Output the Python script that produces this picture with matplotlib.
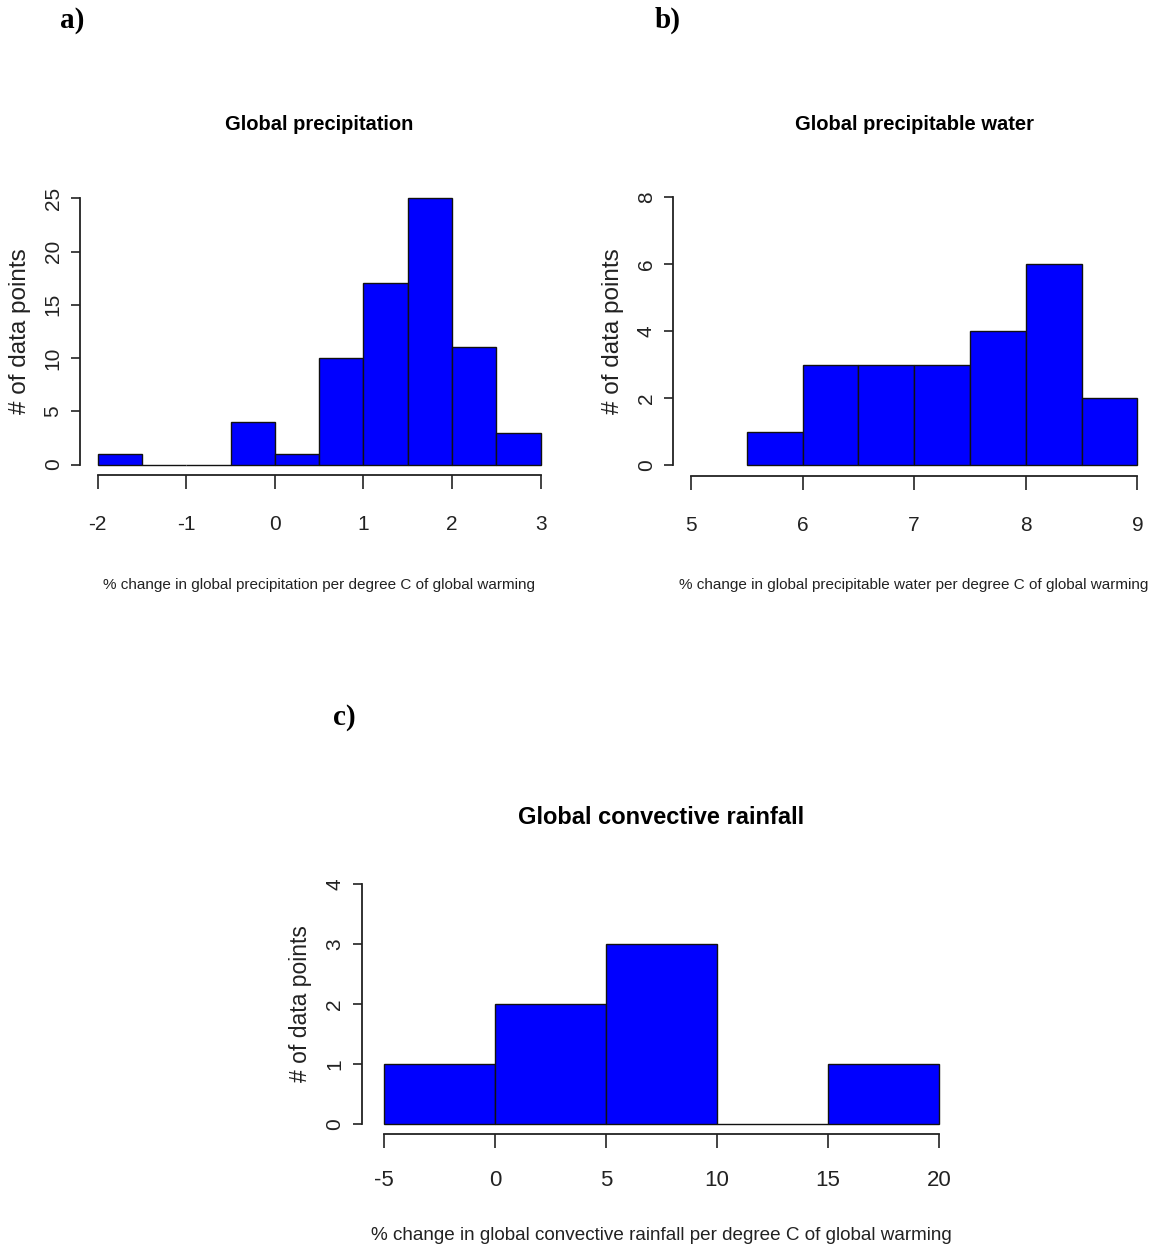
import numpy as np
import matplotlib
matplotlib.use("Agg")
import matplotlib.pyplot as plt

# histogram bins and counts for each panel
precip_edges = np.arange(-2.0, 3.01, 0.5)
precip_counts = [1, 0, 0, 4, 1, 10, 17, 25, 11, 3]
precip_xticks = [-2, -1, 0, 1, 2, 3]
precip_yticks = [0, 5, 10, 15, 20, 25]

water_edges = np.arange(5.5, 9.01, 0.5)
water_counts = [1, 3, 3, 3, 4, 6, 2]
water_xticks = [5, 6, 7, 8, 9]
water_yticks = [0, 2, 4, 6, 8]

conv_edges = np.arange(-5, 20.1, 5)
conv_counts = [1, 2, 3, 0, 1]
conv_xticks = [-5, 0, 5, 10, 15, 20]
conv_yticks = [0, 1, 2, 3, 4]

W, H = 1159, 1251
SANS = ["Liberation Sans", "DejaVu Sans"]
SERIF = ["Liberation Serif", "DejaVu Serif"]
INK = "#222222"

fig = plt.figure(figsize=(W / 100, H / 100), dpi=100)


def px(x, y):
    return x / W, 1 - y / H


def hist_panel(box, edges, counts, xticks, yticks, title, xlabel, fs):
    left, top, right, bottom = box
    ax = fig.add_axes([left / W, 1 - bottom / H, (right - left) / W, (bottom - top) / H])
    ax.bar(edges[:-1], counts, width=np.diff(edges), align="edge",
           color="#0000ff", edgecolor="#111111", linewidth=1.0)
    # R style axis ranges: 4% padding on each side
    x0, x1 = xticks[0], xticks[-1]
    y0, y1 = yticks[0], yticks[-1]
    ax.set_xlim(x0 - 0.04 * (x1 - x0), x1 + 0.04 * (x1 - x0))
    ax.set_ylim(y0 - 0.04 * (y1 - y0), y1 + 0.04 * (y1 - y0))
    for s in ["top", "right"]:
        ax.spines[s].set_visible(False)
    ax.spines["left"].set_bounds(y0, y1)
    ax.spines["bottom"].set_bounds(x0, x1)
    for s in ["left", "bottom"]:
        ax.spines[s].set_linewidth(1.3)
        ax.spines[s].set_color(INK)
    ax.set_xticks(xticks)
    ax.set_yticks(yticks)
    ax.tick_params(axis="x", length=10, width=1.2, color=INK, pad=fs["xtpad"])
    ax.tick_params(axis="y", length=6.5, width=1.2, color=INK, pad=6)
    ax.set_xticklabels([str(t) for t in xticks], fontsize=fs["xt"], family=SANS, color=INK)
    ax.set_yticklabels([str(t) for t in yticks], fontsize=fs["yt"], family=SANS, color=INK,
                       rotation=90, va="center")
    ax.set_facecolor("none")
    ax.set_ylabel("# of data points", fontsize=fs["yl"], family=SANS, color=INK,
                  labelpad=fs["ypad"])

    # title and x label sit centred over the plot region
    cx = (left + right) / 2
    fig.text(*px(cx, fs["ty"]), title, fontsize=fs["title"], family=SANS, fontweight="bold",
             ha="center", va="center")
    fig.text(*px(cx, fs["xy"]), xlabel, fontsize=fs["xl"], family=SANS, color=INK,
             ha="center", va="center")
    return ax


fs_a = dict(xt=15, yt=15, title=14.5, ty=125, xl=11, xy=585, yl=17.5, ypad=9, xtpad=19)
fs_b = dict(fs_a)
fs_c = dict(xt=16, yt=15, title=17, ty=818, xl=13.6, xy=1235, yl=16.5, ypad=10, xtpad=16)

hist_panel((80, 187.6, 558.4, 475.2), precip_edges, precip_counts, precip_xticks, precip_yticks,
           "Global precipitation",
           "% change in global precipitation per degree C of global warming", fs_a)
hist_panel((673.1, 186.6, 1155.2, 475.7), water_edges, water_counts, water_xticks, water_yticks,
           "Global precipitable water",
           "% change in global precipitable water per degree C of global warming", fs_b)
hist_panel((361.8, 874.4, 961.2, 1133.6), conv_edges, conv_counts, conv_xticks, conv_yticks,
           "Global convective rainfall",
           "% change in global convective rainfall per degree C of global warming", fs_c)

# panel letters
for lab, (x, y) in [("a)", (60, 20)), ("b)", (655, 20)), ("c)", (333, 718))]:
    fig.text(*px(x, y), lab, fontsize=21, family=SERIF, fontweight="bold", va="center", ha="left")

fig.savefig("out.png", dpi=100, facecolor="white")
